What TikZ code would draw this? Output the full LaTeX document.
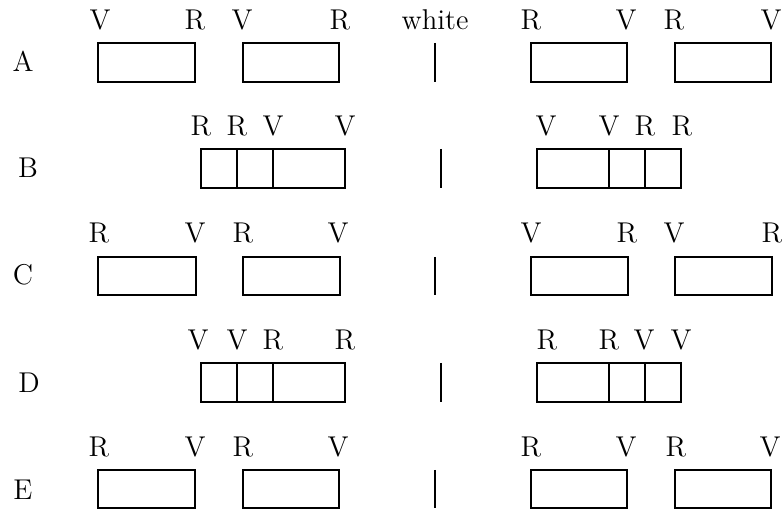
\documentclass[tikz,border=0pt]{standalone}
\begin{document}
\def\pxu{0.3846pt}
\begin{tikzpicture}[x=0.3846pt,y=-0.3846pt,
  box/.style={draw,line width=0.75pt,inner sep=0pt,outer sep=0pt,anchor=north west},
  lbl/.style={inner sep=0pt,anchor=base,font=\fontsize{11}{13}\selectfont},
  bar/.style={line width=0.75pt}]
\useasboundingbox (0,0) rectangle (784,510);
% ---------- Row A ----------
\node[lbl] (rA) at (23,72) {A};
\node[box,minimum width=97*\pxu,minimum height=39*\pxu] (a1) at (98,43) {};
\node[box,minimum width=96*\pxu,minimum height=39*\pxu] (a2) at (243,43) {};
\node[box,minimum width=96*\pxu,minimum height=39*\pxu] (a3) at (531,43) {};
\node[box,minimum width=96*\pxu,minimum height=39*\pxu] (a4) at (675,43) {};
\coordinate (aT) at (435,43); \coordinate (aB) at (435,82);
\draw[bar] (aT) -- (aB);
\foreach \t/\x [count=\i] in {V/100,R/195,V/242,R/340,white/435,R/531,V/626,R/674,V/771}
  \node[lbl] (la\i) at (\x,30) {\t};
% ---------- Row B ----------
\node[lbl] (rB) at (28,178) {B};
\node[box,minimum width=36*\pxu,minimum height=39*\pxu] (b1) at (201,149) {};
\node[box,minimum width=36*\pxu,minimum height=39*\pxu] (b2) at (237,149) {};
\node[box,minimum width=72*\pxu,minimum height=39*\pxu] (b3) at (273,149) {};
\node[box,minimum width=72*\pxu,minimum height=39*\pxu] (b4) at (537,149) {};
\node[box,minimum width=36*\pxu,minimum height=39*\pxu] (b5) at (609,149) {};
\node[box,minimum width=36*\pxu,minimum height=39*\pxu] (b6) at (645,149) {};
\coordinate (bT) at (441,149); \coordinate (bB) at (441,188);
\draw[bar] (bT) -- (bB);
\foreach \t/\x [count=\i] in {R/201,R/237,V/273,V/345,V/546,V/609,R/645,R/682}
  \node[lbl] (lb\i) at (\x,136) {\t};
% ---------- Row C ----------
\node[lbl] (rC) at (23,284.5) {C};
\node[box,minimum width=98*\pxu,minimum height=38*\pxu] (c1) at (98,257) {};
\node[box,minimum width=97*\pxu,minimum height=38*\pxu] (c2) at (243,257) {};
\node[box,minimum width=97*\pxu,minimum height=38*\pxu] (c3) at (531,257) {};
\node[box,minimum width=97*\pxu,minimum height=38*\pxu] (c4) at (675,257) {};
\coordinate (cT) at (435,257); \coordinate (cB) at (435,295);
\draw[bar] (cT) -- (cB);
\foreach \t/\x [count=\i] in {R/99,V/195,R/243,V/338,V/531,R/627,V/674,R/772}
  \node[lbl] (lc\i) at (\x,243) {\t};
% ---------- Row D ----------
\node[lbl] (rD) at (29,393) {D};
\node[box,minimum width=36*\pxu,minimum height=39*\pxu] (d1) at (201,363) {};
\node[box,minimum width=36*\pxu,minimum height=39*\pxu] (d2) at (237,363) {};
\node[box,minimum width=72*\pxu,minimum height=39*\pxu] (d3) at (273,363) {};
\node[box,minimum width=72*\pxu,minimum height=39*\pxu] (d4) at (537,363) {};
\node[box,minimum width=36*\pxu,minimum height=39*\pxu] (d5) at (609,363) {};
\node[box,minimum width=36*\pxu,minimum height=39*\pxu] (d6) at (645,363) {};
\coordinate (dT) at (441,363); \coordinate (dB) at (441,402);
\draw[bar] (dT) -- (dB);
\foreach \t/\x [count=\i] in {V/198,V/237,R/273,R/345,R/547,R/609,V/644,V/681}
  \node[lbl] (ld\i) at (\x,350) {\t};
% ---------- Row E ----------
\node[lbl] (rE) at (23,500) {E};
\node[box,minimum width=97*\pxu,minimum height=38*\pxu] (e1) at (98,470) {};
\node[box,minimum width=96*\pxu,minimum height=38*\pxu] (e2) at (243,470) {};
\node[box,minimum width=96*\pxu,minimum height=38*\pxu] (e3) at (531,470) {};
\node[box,minimum width=96*\pxu,minimum height=38*\pxu] (e4) at (675,470) {};
\coordinate (eT) at (435,470); \coordinate (eB) at (435,508);
\draw[bar] (eT) -- (eB);
\foreach \t/\x [count=\i] in {R/99,V/195,R/243,V/338,R/531,V/626,R/676,V/770}
  \node[lbl] (le\i) at (\x,457) {\t};
\end{tikzpicture}
\end{document}
